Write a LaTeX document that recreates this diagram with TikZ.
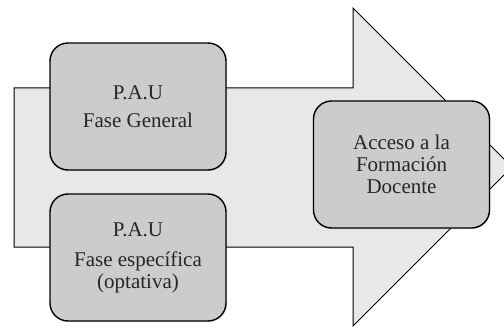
\documentclass[tikz,border=0pt]{standalone}
\usepackage{fontspec}
\setmainfont{Liberation Serif}
\usetikzlibrary{shadows}
\definecolor{arrowgray}{HTML}{E8E8E8}
\definecolor{boxgray}{HTML}{CCCCCC}
\tikzset{
	fase/.style={draw=black, line width=1.4pt, fill=boxgray, rounded corners=18pt,
		minimum width=176pt, minimum height=127pt, align=center, text=black!85,
		font=\fontsize{21}{22}\selectfont, drop shadow={opacity=0.25, shadow xshift=1pt, shadow yshift=-1pt}},
}
\begin{document}
\begin{tikzpicture}[x=1pt, y=-1pt]
	\useasboundingbox (0, 0) rectangle (504, 329);

	%arrow
	\draw [black, line width=1pt, fill=arrowgray] (14, 88) -- (353, 88) -- (353, 8)
		-- (512, 167) -- (353, 326) -- (353, 247) -- (14, 247) -- cycle;

	%nodes
	\node [fase] (general) at (138, 106.5) {P.A.U\\[6pt]Fase General};
	\node [fase] (especifica) at (138, 257.5) {P.A.U\\[8pt]Fase específica\\(optativa)};
	\node [fase] (acceso) at (401.5, 164.5) {Acceso a la\\Formación\\Docente};

\end{tikzpicture}
\end{document}
